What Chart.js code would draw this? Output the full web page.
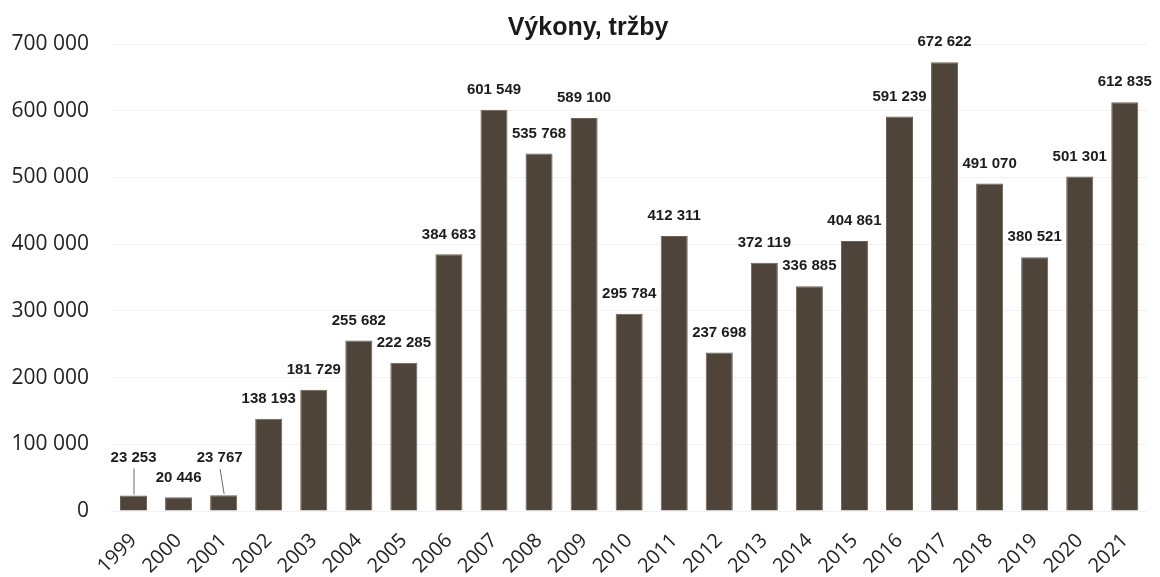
<!DOCTYPE html>
<html>
<head>
<meta charset="utf-8">
<script src="https://cdn.jsdelivr.net/npm/chart.js@4/dist/chart.umd.min.js"></script>
<style>
  html, body { margin: 0; padding: 0; background: #ffffff; }
  #wrap { width: 1160px; height: 577px; position: relative; }
</style>
</head>
<body>
<div id="wrap"><canvas id="c"></canvas></div>
<script>
const titleText = 'Výkony, tržby';
const years = ['1999','2000','2001','2002','2003','2004','2005','2006','2007','2008','2009','2010',
               '2011','2012','2013','2014','2015','2016','2017','2018','2019','2020','2021'];
const values = [23253, 20446, 23767, 138193, 181729, 255682, 222285, 384683, 601549, 535768, 589100, 295784,
                412311, 237698, 372119, 336885, 404861, 591239, 672622, 491070, 380521, 501301, 612835];
const yMin = 0;
const yMax = 700000;
const yStep = 100000;

function fmt(v) {
  return String(Math.round(v)).replace(/\B(?=(\d{3})+(?!\d))/g, ' ');
}

// label placement tweaks (style only): raised labels with leader lines
const raised = { 0: { lift: 18, dx: 0 }, 2: { lift: 17, dx: -4 } };

const valueLabels = {
  id: 'valueLabels',
  afterDatasetsDraw(chart) {
    const ctx = chart.ctx;
    const meta = chart.getDatasetMeta(0);
    ctx.save();
    ctx.font = 'bold 15px "Liberation Sans", Arial, sans-serif';
    ctx.fillStyle = '#1c1c1c';
    ctx.textAlign = 'center';
    ctx.textBaseline = 'middle';
    meta.data.forEach((bar, i) => {
      const r = raised[i];
      const lift = r ? r.lift : 0;
      const dx = r ? r.dx : 0;
      const ly = bar.y - 20 - lift;
      const lx = bar.x + dx;
      ctx.fillText(fmt(values[i]), lx, ly);
      if (r) {
        ctx.beginPath();
        ctx.strokeStyle = '#6a6a6a';
        ctx.lineWidth = 1;
        ctx.moveTo(lx + 0.5, ly + 11);
        ctx.lineTo(bar.x + 0.5, bar.y - 1);
        ctx.stroke();
      }
    });
    ctx.restore();
  }
};

// shift title slightly right like the reference
const titleShift = {
  id: 'titleShift',
  beforeDraw(chart) {
    if (chart.titleBlock) {
      chart.titleBlock.left = 8;
      chart.titleBlock.right = chart.width + 8;
    }
  }
};

new Chart(document.getElementById('c'), {
  type: 'bar',
  data: {
    labels: years,
    datasets: [{
      data: values,
      backgroundColor: '#4f443a',
      borderColor: '#6b6052',
      borderWidth: 1,
      barPercentage: 0.6,
      categoryPercentage: 1.0
    }]
  },
  options: {
    responsive: true,
    maintainAspectRatio: false,
    animation: false,
    layout: { padding: { left: 0, right: 11, top: 0, bottom: 0 } },
    plugins: {
      legend: { display: false },
      tooltip: { enabled: false },
      title: {
        display: true,
        text: titleText,
        color: '#1a1a1a',
        font: { family: '"Liberation Sans", Arial, sans-serif', size: 25, weight: 'bold' },
        padding: { top: 13, bottom: 1 }
      }
    },
    scales: {
      x: {
        grid: { display: false, drawTicks: false },
        border: { display: false },
        ticks: {
          color: '#222222',
          font: { family: '"Open Sans", sans-serif', size: 20 },
          maxRotation: 45,
          minRotation: 45,
          autoSkip: false,
          padding: 18
        },
        afterFit(scale) { scale.height = 66; }
      },
      y: {
        min: yMin,
        max: yMax,
        grid: { color: 'rgba(0,0,0,0.05)', drawTicks: false },
        border: { display: false },
        ticks: {
          stepSize: yStep,
          color: '#222222',
          font: { family: '"Open Sans", sans-serif', size: 21 },
          padding: 22,
          callback: (v) => fmt(v)
        },
        afterFit(scale) { scale.width = 111; }
      }
    }
  },
  plugins: [titleShift, valueLabels]
});
</script>
</body>
</html>
